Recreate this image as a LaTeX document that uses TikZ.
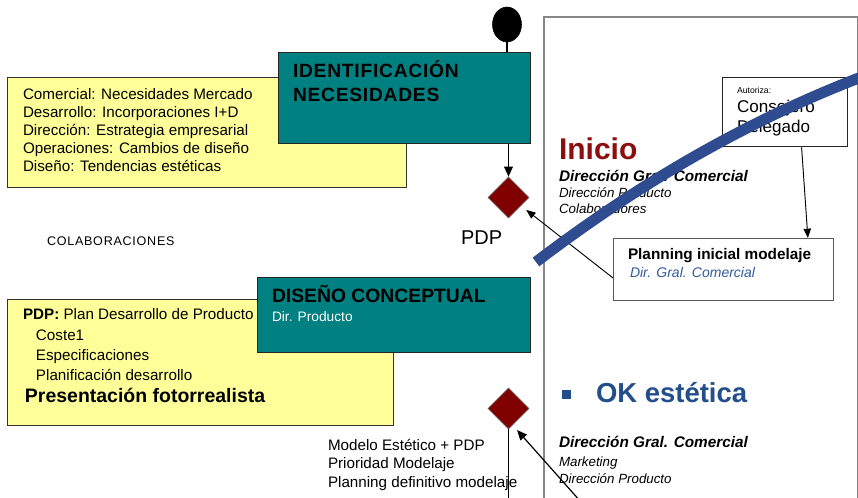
\documentclass[tikz,border=0pt]{standalone}
\usepackage{fontspec}
\setmainfont{Liberation Sans}
\usetikzlibrary{shapes.geometric,calc,arrows.meta}
\definecolor{tealbox}{RGB}{0,128,128}
\definecolor{yelbox}{RGB}{255,255,153}
\definecolor{decred}{RGB}{128,0,0}
\definecolor{inired}{RGB}{140,14,14}
\definecolor{curveblue}{RGB}{47,76,145}
\definecolor{okblue}{RGB}{35,78,140}
\definecolor{dirblue}{RGB}{50,90,160}
\definecolor{panelgray}{RGB}{135,135,135}
\newcommand\myfs[2]{\fontsize{#1pt}{#2pt}\selectfont}
\begin{document}
\begin{tikzpicture}[x=0.75pt,y=-0.75pt,
  box/.style={draw, inner sep=0pt, anchor=north west, line width=0.75pt},
  ybox/.style={box, fill=yelbox, draw=black!80},
  tbox/.style={box, fill=tealbox, draw=black!85},
  wbox/.style={box, fill=white},
  dec/.style={diamond, aspect=1, fill=decred, draw=black!60, line width=0.4pt,
    minimum width=30.75pt, minimum height=30.75pt, inner sep=0pt},
  txt/.style={anchor=base west, inner sep=0pt, outer sep=0pt},
  small/.style={txt, font=\myfs{11.4}{13}},
  flow/.style={-{Triangle[length=7.5pt,width=6.5pt]}, line width=0.9pt},
  thinflow/.style={-{Triangle[length=7pt,width=5.5pt]}, line width=0.7pt},
  plain/.style={line width=0.9pt}
]
\useasboundingbox (0,0) rectangle (858,498);
\clip (0,0) rectangle (858,498);
\fill[white] (0,0) rectangle (858,498);

% right panel
\node[box, draw=panelgray, line width=1.5pt, minimum width=235.5pt, minimum height=380pt] (panel) at (543,16) {};

% yellow box 1 and its text
\node[ybox, minimum width=299.25pt, minimum height=82.5pt] (y1) at (7,77) {};
\node[small] (y1a) at (23,100) {Comercial: Necesidades Mercado};
\node[small] (y1b) at (23,118) {Desarrollo: Incorporaciones I+D};
\node[small] (y1c) at (23,136) {Dirección: Estrategia empresarial};
\node[small] (y1d) at (23,154) {Operaciones: Cambios de diseño};
\node[small] (y1e) at (23,172) {Diseño: Tendencias estéticas};

% teal box 1
\node[tbox, minimum width=189pt, minimum height=68.25pt] (idn) at (278,52) {};
\node[txt, font=\myfs{14.4}{17}\bfseries\addfontfeature{LetterSpace=4}] (idna) at (293,78) {IDENTIFICACIÓN};
\node[txt, font=\myfs{14.4}{17}\bfseries\addfontfeature{LetterSpace=4}] (idnb) at (293,101.7) {NECESIDADES};

% start circle
\node[ellipse, fill=black, draw=black, minimum width=21.75pt, minimum height=26.25pt, inner sep=0pt] (start) at (507,24.5) {};
\draw[plain] (start.south) -- (start.south |- idn.north);

% decision 1
\node[dec] (d1) at (508.5,197.5) {};
\draw[flow] (d1.north |- idn.south) -- (d1.north);
\node[txt, font=\myfs{15}{17}] (pdp) at (461,245) {PDP};
\node[txt, font=\myfs{9.4}{11}\addfontfeature{LetterSpace=6}] (colab) at (47,245.5) {COLABORACIONES};

% yellow box 2
\node[ybox, minimum width=289.5pt, minimum height=94.5pt] (y2) at (7,299) {};
\node[small] (y2a) at (23,320) {\textbf{PDP:} Plan Desarrollo de Producto};
\node[small] (y2b) at (36,341) {Coste1};
\node[small] (y2c) at (36,361) {Especificaciones};
\node[small] (y2d) at (36,381) {Planificación desarrollo};
\node[txt, font=\myfs{14.6}{17}\bfseries] (y2e) at (25,403) {Presentación fotorrealista};

% teal box 2
\node[tbox, minimum width=204.75pt, minimum height=56.25pt] (dis) at (257,277) {};
\node[txt, font=\myfs{14.5}{17}\bfseries] (disa) at (272,303) {DISEÑO CONCEPTUAL};
\node[txt, font=\myfs{10.3}{12}, text=white] (disb) at (272,322) {Dir. Producto};

% decision 2
\node[dec] (d2) at (508.5,408.5) {};

% Inicio block
\node[txt, font=\myfs{22.5}{26}\bfseries, text=inired] (ini) at (559,160) {Inicio};
\node[txt, font=\myfs{11.5}{13}\bfseries\itshape] (inia) at (559,182) {Dirección Gral. Comercial};
\node[txt, font=\myfs{10}{12}\itshape] (inib) at (559,198) {Dirección Producto};
\node[txt, font=\myfs{10}{12}\itshape] (inic) at (559,214) {Colaboradores};

% Autoriza box
\node[wbox, draw=black!85, line width=1pt, minimum width=93.75pt, minimum height=51.75pt] (aut) at (722,77) {};
\node[txt, font=\myfs{6.5}{8}] (auta) at (737,94) {Autoriza:};
\node[txt, font=\myfs{12.8}{15}] (autb) at (737,113) {Consejero};
\node[txt, font=\myfs{12.8}{15}] (autc) at (737,133) {Delegado};

% Planning box
\node[wbox, draw=black!65, line width=1.1pt, minimum width=165pt, minimum height=46.5pt] (plan) at (613,238) {};
\node[txt, font=\myfs{11.5}{13}\bfseries] (plana) at (628,260) {Planning inicial modelaje};
\node[txt, font=\myfs{10.5}{12}\itshape, text=dirblue] (planb) at (630,278) {Dir. Gral. Comercial};

\draw[thinflow] ($(aut.south west)!0.63!(aut.south east)$) -- ($(plan.north west)!0.88!(plan.north east)$);
\draw[thinflow, shorten >=5pt] ($(plan.north west)!0.63!(plan.south west)$) -- ($(d1.south)!0.6!(d1.east)$);

% OK estetica block
\fill[okblue] (562,390) rectangle (571,399);
\node[txt, font=\myfs{20.6}{24}\bfseries, text=okblue] (ok) at (596,403) {OK estética};
\node[txt, font=\myfs{11.5}{13}\bfseries\itshape] (oka) at (559,447.7) {Dirección Gral. Comercial};
\node[txt, font=\myfs{10}{12}\itshape] (okb) at (559,466.7) {Marketing};
\node[txt, font=\myfs{10}{12}\itshape] (okc) at (559,484) {Dirección Producto};

% Modelo texts
\node[small] (moda) at (328,451) {Modelo Estético + PDP};
\node[small] (modb) at (328,469) {Prioridad Modelaje};
\node[small] (modc) at (328,488) {Planning definitivo modelaje};

% connectors of decision 2
\coordinate (bot) at (507,505);
\coordinate (c2) at (581,502);
\draw[plain] (d2.south) -- (d2.south |- bot);
\draw[flow, shorten >=5pt] (c2) -- ($(d2.south)!0.2!(d2.east)$);

% blue curve
\draw[curveblue, line width=8.2pt] (536,262) .. controls (643.3,180.3) and (750.7,119.3) .. (864,76);
\end{tikzpicture}
\end{document}
